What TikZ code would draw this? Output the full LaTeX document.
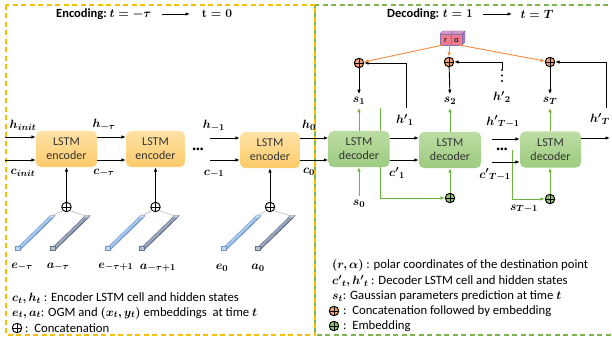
\documentclass[tikz,border=0pt]{standalone}
\usepackage{fontspec}
\setmainfont{Carlito}
\usepackage{amsmath}
\usepackage{bm}
\usetikzlibrary{arrows.meta,backgrounds,calc}
\definecolor{ygold}{HTML}{F5C000}
\definecolor{gdash}{HTML}{7DB450}
\definecolor{encT}{HTML}{FFE2A6}
\definecolor{encB}{HTML}{FCCB6A}
\definecolor{decT}{HTML}{BCDDA3}
\definecolor{decB}{HTML}{9DCB80}
\definecolor{gline}{HTML}{6DB33F}
\definecolor{oline}{HTML}{F08A3E}
\definecolor{ofill}{HTML}{F4A070}
\definecolor{gfill}{HTML}{8CC46A}
\definecolor{ebar}{HTML}{A9C8EE}
\definecolor{ebarS}{HTML}{6F95CC}
\definecolor{abar}{HTML}{9AA6BC}
\definecolor{abarS}{HTML}{66738C}
\definecolor{cubeF}{HTML}{EE7B8E}
\definecolor{cubeT}{HTML}{D79AC6}
\definecolor{cubeD}{HTML}{8E6FAE}
\newcommand\vecbar[4]{%
  \filldraw[fill=#2, draw=#3, line width=0.4pt] (#1,250) -- (#1+33,218) -- (#1+38,218) -- (#1+5,250) -- cycle;
  \filldraw[fill=#3, draw=#3, line width=0.4pt] (#1+5,250) -- (#1+38,218) -- (#1+40,215.5) -- (#1+7,247.5) -- cycle;
  \filldraw[fill=#2!60!white, draw=#3, line width=0.4pt] (#1+33,218) -- (#1+35,215.5) -- (#1+40,215.5) -- (#1+38,218) -- cycle;
  \filldraw[fill=#2!70!white, draw=#3, line width=0.4pt] (#1,250) rectangle (#1+5,246);
  \coordinate (#4) at (#1+36,216);
}
\begin{document}
\begin{tikzpicture}[x=1pt,y=-1pt,
  arr/.style={-{Latex[length=4.5pt,width=3.6pt]}, line width=0.9pt, black},
  garr/.style={-{Latex[length=4.5pt,width=3.6pt]}, line width=0.9pt, gline},
  oarr/.style={-{Latex[length=4.5pt,width=3.6pt]}, line width=0.9pt, oline},
  lstmE/.style={rounded corners=5pt, minimum width=61pt, minimum height=36pt, inner sep=0pt, align=center, top color=encT, bottom color=encB, draw=none, font=\fontsize{12}{14}\selectfont, text=black!80},
  lstmD/.style={lstmE, top color=decT, bottom color=decB},
  lab/.style={inner sep=0pt, font=\fontsize{12.5}{14}\selectfont\boldmath},
  leg/.style={anchor=west, inner sep=0pt, font=\fontsize{12.7}{15}\selectfont},
  ttl/.style={inner sep=0pt, font=\fontsize{12.5}{15}\selectfont\bfseries\boldmath},
  oplus/.style={circle, draw=black, line width=0.9pt, minimum size=9.5pt, inner sep=0pt, fill=#1,
     path picture={\draw[line width=0.9pt] (path picture bounding box.north) -- (path picture bounding box.south) (path picture bounding box.west) -- (path picture bounding box.east);}},
  oplus/.default=white,
  hdots/.style={inner sep=0pt, font=\fontsize{7.5}{8}\selectfont},
  vdot/.style={circle, fill=black, inner sep=0pt, minimum size=2.4pt}
]
\useasboundingbox (0,0) rectangle (612,339);
% frames
\draw[gdash, line width=1.3pt, dash pattern=on 5pt off 3.5pt] (315,5) rectangle (616,335);
\draw[ygold, line width=1.3pt, dash pattern=on 5pt off 3.5pt] (6,5) rectangle (315,335);

% titles
\node[ttl, anchor=west] (enct) at (56,14) {Encoding:\ $t=-\tau$};
\node[ttl] (etz) at (217,14) {$\mathbf{t=0}$};
\coordinate (ea1) at (162,14);
\coordinate (ea2) at (190,14);
\draw[arr] (ea1) -- (ea2);
\node[ttl, anchor=west] (dect) at (387,14) {Decoding: $t=1$};
\node[ttl] (dtT) at (537,14) {$t=T$};
\coordinate (da1) at (483,14);
\coordinate (da2) at (512,14);
\draw[arr] (da1) -- (da2);

% green paths passing behind decoder boxes
\coordinate (s1pass) at (380,108);
\coordinate (s1corner) at (380,198);
\node[oplus=gfill] (g2) at (450,198) {};
\coordinate (sTpass) at (512,150);
\coordinate (sTcorner) at (512,199);
\node[oplus=gfill] (g3) at (550,199) {};
\draw[garr] (s1pass) -- (s1corner) -- (g2);
\draw[garr] (sTpass) -- (sTcorner) -- (g3);

% encoder boxes
\node[lstmE] (enc1) at (66.5,149) {LSTM\\encoder};
\node[lstmE, minimum width=59pt] (enc2) at (155.5,149) {LSTM\\encoder};
\node[lstmE, minimum width=60pt] (enc3) at (270,150) {LSTM\\encoder};
% decoder boxes
\node[lstmD] (dec1) at (359,149) {LSTM\\decoder};
\node[lstmD, minimum width=62pt] (dec2) at (450,150) {LSTM\\decoder};
\node[lstmD] (dec3) at (550.5,149.5) {LSTM\\decoder};

% horizontal state arrows
\coordinate (hin) at (5,137);
\coordinate (cin) at (5,160);
\draw[arr] (hin) -- (hin -| enc1.west);
\draw[arr] (cin) -- (cin -| enc1.west);
\draw[arr] (enc1.east |- hin) -- (enc2.west |- hin);
\draw[arr] (enc1.east |- cin) -- (enc2.west |- cin);
\node[hdots] (edots) at (198,150) {\textbullet\textbullet\textbullet};
\coordinate (h3in) at (210,138);
\coordinate (c3in) at (210,160);
\draw[arr] (h3in) -- (h3in -| enc3.west);
\draw[arr] (c3in) -- (c3in -| enc3.west);
\draw[arr] (enc3.east |- h3in) -- (dec1.west |- h3in);
\draw[arr] (enc3.east |- c3in) -- (dec1.west |- c3in);
\draw[arr] (dec1.east |- h3in) -- (dec2.west |- h3in);
\draw[arr] (dec1.east |- c3in) -- (dec2.west |- c3in);
\node[hdots] (ddots) at (502,150) {\textbullet\textbullet\textbullet};
\coordinate (hTin) at (492,139);
\coordinate (cTin) at (492,162);
\draw[arr] (hTin) -- (hTin -| dec3.west);
\draw[arr] (cTin) -- (cTin -| dec3.west);
\coordinate (hout) at (610,138);
\draw[arr] (dec3.east |- hout) -- (hout);

% state labels
\node[lab] (lhinit) at (23,125) {$h_{init}$};
\node[lab] (lcinit) at (23,173) {$c_{init}$};
\node[lab] (lhtau) at (104,125) {$h_{-\tau}$};
\node[lab] (lctau) at (104,173) {$c_{-\tau}$};
\node[lab] (lhm1) at (214,126) {$h_{-1}$};
\node[lab] (lcm1) at (214,174) {$c_{-1}$};
\node[lab] (lh0) at (309,125) {$h_0$};
\node[lab] (lc0) at (309,172) {$c_0$};
\node[lab] (lhp1) at (405,120) {${h'}_1$};
\node[lab] (lcp1) at (397,173) {${c'}_1$};
\node[lab] (lhpTm) at (503,122) {${h'}_{T-1}$};
\node[lab] (lcpTm) at (495,175) {${c'}_{T-1}$};
\node[lab] (lhpT) at (600,119) {${h'}_T$};
\node[lab] (lhp2) at (502,97) {${h'}_2$};
\node[vdot] (vd1) at (502,70) {};
\node[vdot] (vd2) at (502,75.5) {};
\node[vdot] (vd3) at (502,81) {};

% decoder outputs
\node[lab] (s1) at (359,101) {$s_1$};
\node[lab] (s2) at (450,101) {$s_2$};
\node[lab] (sT) at (550,101) {$s_T$};
\node[lab] (s0) at (359,204) {$s_0$};
\node[lab] (sTm1) at (524,209) {$s_{T-1}$};
\draw[garr, shorten >=3pt] (dec1.north) -- (s1.south);
\draw[garr, shorten >=3pt] (dec2.north) -- (s2.south);
\draw[garr, shorten >=3pt] (dec3.north -| sT) -- (sT.south);
\draw[garr, shorten <=4pt] (s0.north) -- (dec1.south);
\draw[garr] (g2) -- (dec2.south);
\draw[garr] (g3) -- (g3 |- dec3.south);

% orange concatenation circles
\node[oplus=ofill] (o1) at (359,63) {};
\node[oplus=ofill] (o2) at (449,62) {};
\node[oplus=ofill] (o3) at (550,62) {};
\draw[arr, shorten >=3pt] (o1) -- (s1.north);
\draw[arr, shorten >=3pt] (o2) -- (s2.north);
\draw[arr, shorten >=3pt] (o3) -- (sT.north);

% feedback of hidden states
\coordinate (h1fb) at (406,108);
\coordinate (hTfb) at (606,108);
\draw[arr] (h1fb) |- (o1.east);
\draw[arr] (vd1) |- (o2.east);
\draw[arr] (hTfb) |- (o3.east);

% (r, alpha) cubes
\node[minimum width=22pt, minimum height=11pt, inner sep=0pt] (ra) at (451,39.5) {};
\filldraw[fill=cubeT, draw=cubeD, line width=0.4pt] (440,34) -- (443,31) -- (465,31) -- (462,34) -- cycle;
\filldraw[fill=cubeD!70!cubeT, draw=cubeD, line width=0.4pt] (462,34) -- (465,31) -- (465,42) -- (462,45) -- cycle;
\filldraw[fill=cubeF, draw=cubeD, line width=0.4pt] (440,34) rectangle (451,45);
\filldraw[fill=cubeF, draw=cubeD, line width=0.4pt] (451,34) rectangle (462,45);
\draw[cubeD, line width=0.4pt] (451,34) -- (454,31);
\node[inner sep=0pt, font=\fontsize{8.5}{9}\selectfont] (rlab) at (445.5,40) {r};
\node[inner sep=0pt, font=\fontsize{8.5}{9}\selectfont] (alab) at (456.5,40) {α};
\coordinate (raL) at (443,45);
\coordinate (raM) at (449,45);
\coordinate (raR) at (459,45);
\draw[oarr] (raL) -- (o1);
\draw[oarr] (raM) -- (o2);
\draw[oarr] (raR) -- (o3);

% encoder inputs: embedding vectors
\vecbar{15}{ebar}{ebarS}{e1t}
\vecbar{50}{abar}{abarS}{a1t}
\vecbar{105}{ebar}{ebarS}{e2t}
\vecbar{139}{abar}{abarS}{a2t}
\vecbar{221}{ebar}{ebarS}{e3t}
\vecbar{255}{abar}{abarS}{a3t}
\node[oplus] (p1) at (66.5,207) {};
\node[oplus] (p2) at (155.5,207) {};
\node[oplus] (p3) at (270,207) {};
\foreach \p/\e/\a in {p1/e1t/a1t, p2/e2t/a2t, p3/e3t/a3t}{
  \draw[gray!70, line width=0.4pt] (\p.south west) -- (\e);
  \draw[gray!70, line width=0.4pt] (\p.south east) -- (\a);
}
\draw[arr] (p1) -- (enc1.south);
\draw[arr] (p2) -- (enc2.south);
\draw[arr] (p3) -- (enc3.south);
\node[lab] (le1) at (22,267) {$e_{-\tau}$};
\node[lab] (la1) at (58,267) {$a_{-\tau}$};
\node[lab] (le2) at (116,267) {$e_{-\tau+1}$};
\node[lab] (la2) at (158,268) {$a_{-\tau+1}$};
\node[lab] (le3) at (222,268) {$e_0$};
\node[lab] (la3) at (258,268) {$a_0$};

% legend left
\node[leg] (L1) at (12,298) {$\bm{c_t, h_t}$ : Encoder LSTM cell and hidden states};
\node[leg] (L2) at (12,313) {$\bm{e_t, a_t}$: OGM and $\bm{(x_t, y_t)}$ embeddings\ \ at time $\bm{t}$};
\node[oplus] (L3c) at (17,328) {};
\node[leg] (L3) at (25,328) {:\ \ Concatenation};
% legend right
\node[leg] (R1) at (332,265) {$\bm{(r, \alpha)}$ : polar coordinates of the destination point};
\node[leg] (R2) at (332,281) {$\bm{{c'}_t, {h'}_t}$ : Decoder LSTM cell and hidden states};
\node[leg] (R3) at (332,296) {$\bm{s_t}$: Gaussian parameters prediction at time $\bm{t}$};
\node[oplus=ofill] (R4c) at (334,311) {};
\node[leg] (R4) at (343,311) {:\ \ Concatenation followed by embedding};
\node[oplus=gfill] (R5c) at (334,326) {};
\node[leg] (R5) at (343,326) {:\ \ Embedding};
\end{tikzpicture}
\end{document}
